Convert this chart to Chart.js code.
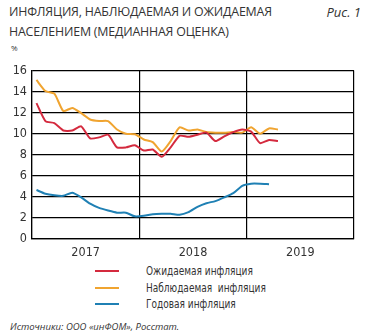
<!DOCTYPE html>
<html>
<head>
<meta charset="utf-8">
<script src="https://cdn.jsdelivr.net/npm/chart.js@4/dist/chart.umd.min.js"></script>
<style>
    body { margin: 0; background: #fff; }
    #wrap { position: relative; width: 368px; height: 336px; font-family: "Open Sans", "Noto Sans", sans-serif; color: #333; }
    #title { position: absolute; left: 9px; top: 2px; font-size: 12.4px; line-height: 20px; letter-spacing: -0.2px; }
    #fig { position: absolute; right: 7px; top: 2px; font-size: 13px; line-height: 20px; font-style: italic; }
    #unit { position: absolute; left: 11px; top: 42px; font-size: 8px; }
    #box { position: absolute; left: 0; top: 58px; width: 368px; height: 204px; }
    #legend { position: absolute; left: 95px; top: 263px; font-family: "Liberation Sans Narrow", "DejaVu Sans Condensed", Roboto, sans-serif; font-size: 12.5px; }
    #legend div { height: 16.5px; line-height: 16px; position: relative; width: 200px; }
    #legend span { position: absolute; left: 0; top: 7px; width: 24px; height: 2px; }
    #legend b { position: absolute; left: 51px; top: 0; font-weight: normal; white-space: pre; transform: scaleX(0.8); transform-origin: 0 0; }
    #src { position: absolute; left: 10px; top: 320px; font-size: 9.5px; font-style: italic; }
</style>
</head>
<body>
<div id="wrap">
    <div id="title">ИНФЛЯЦИЯ, НАБЛЮДАЕМАЯ И ОЖИДАЕМАЯ<br>НАСЕЛЕНИЕМ (МЕДИАННАЯ ОЦЕНКА)</div>
    <div id="fig">Рис. 1</div>
    <div id="unit">%</div>
    <div id="box"><canvas id="myChart" width="368" height="204"></canvas></div>
    <div id="legend"></div>
    <div id="src">Источники: ООО «инФОМ», Росстат.</div>
</div>
<script>
// one slot per month, three years on the axis
const years = ['2017', '2018', '2019'];
const months = [
    '02.17', '03.17', '04.17', '05.17', '06.17', '07.17', '08.17', '09.17', '10.17', '11.17', '12.17', '01.18',
    '02.18', '03.18', '04.18', '05.18', '06.18', '07.18', '08.18', '09.18', '10.18', '11.18', '12.18', '01.19',
    '02.19', '03.19', '04.19', '05.19'
];

const expected = [12.9, 11.2, 11.0, 10.3, 10.3, 10.7, 9.55, 9.65, 9.9, 8.7, 8.7, 8.9,
    8.4, 8.5, 7.8, 8.7, 9.8, 9.7, 9.9, 10.1, 9.3, 9.75, 10.15, 10.4,
    10.2, 9.1, 9.4, 9.3];
const observed = [15.1, 14.05, 13.8, 12.15, 12.45, 11.95, 11.35, 11.2, 11.2, 10.4, 10.0, 9.95,
    9.45, 9.2, 8.3, 9.3, 10.6, 10.3, 10.4, 10.15, 10.1, 10.1, 10.15, 10.1,
    10.6, 10.0, 10.5, 10.4];
const annual = [4.65, 4.3, 4.15, 4.1, 4.4, 3.95, 3.35, 2.95, 2.7, 2.5, 2.5, 2.15,
    2.2, 2.35, 2.4, 2.4, 2.3, 2.55, 3.05, 3.4, 3.6, 3.95, 4.35, 5.05,
    5.25, 5.25, 5.2];

const yTicks = [0, 2, 4, 6, 8, 10, 12, 14, 16];

const series = [
    { label: 'Ожидаемая инфляция', values: expected, color: '#d42a3e' },
    { label: 'Наблюдаемая  инфляция', values: observed, color: '#f0a430' },
    { label: 'Годовая инфляция', values: annual, color: '#1f80b4' }
];

const toPoints = (values) => values.map((v, i) => ({ x: months.indexOf(months[i]) + 0.5, y: v }));

const legend = document.getElementById('legend');
series.forEach((s) => {
    const row = document.createElement('div');
    row.innerHTML = `<span style="background:${s.color}"></span><b>${s.label}</b>`;
    legend.appendChild(row);
});

const ctx = document.getElementById('myChart').getContext('2d');
const tickFont = { family: '"Liberation Sans Narrow", "DejaVu Sans Condensed", Roboto, sans-serif', size: 12.5 };

new Chart(ctx, {
    type: 'line',
    data: {
        datasets: series.map((s) => ({
            label: s.label,
            data: toPoints(s.values),
            borderColor: s.color,
            backgroundColor: s.color,
            borderWidth: 2,
            pointRadius: 0,
            tension: 0.2,
            fill: false
        }))
    },
    options: {
        responsive: false,
        animation: false,
        layout: { padding: { top: 11, right: 14, bottom: 0, left: 0 } },
        plugins: { legend: { display: false }, tooltip: { enabled: false } },
        scales: {
            x: {
                type: 'linear',
                min: 0,
                max: years.length * 12,
                afterBuildTicks: (scale) => {
                    scale.ticks = [0, 6, 12, 18, 24, 30, 36].map((v) => ({ value: v }));
                },
                afterFit: (scale) => { scale.height = 23; },
                ticks: {
                    autoSkip: false,
                    maxRotation: 0,
                    color: '#333',
                    font: tickFont,
                    padding: 6,
                    callback: (value) => (value % 12 === 6 ? years[(value - 6) / 12] : '')
                },
                grid: {
                    drawTicks: false,
                    color: (c) => (c.tick && c.tick.value % 12 === 0 ? '#000' : 'rgba(0,0,0,0)'),
                    lineWidth: 1.2
                },
                border: { display: true, color: '#000', width: 1.2 }
            },
            y: {
                min: 0,
                max: 16,
                afterBuildTicks: (scale) => {
                    scale.ticks = yTicks.map((v) => ({ value: v }));
                },
                afterFit: (scale) => { scale.width = 32; },
                ticks: { color: '#333', font: tickFont, padding: 5 },
                grid: { drawTicks: false, color: '#000', lineWidth: 1.2 },
                border: { display: true, color: '#000', width: 1.2 }
            }
        }
    }
});
</script>
</body>
</html>
